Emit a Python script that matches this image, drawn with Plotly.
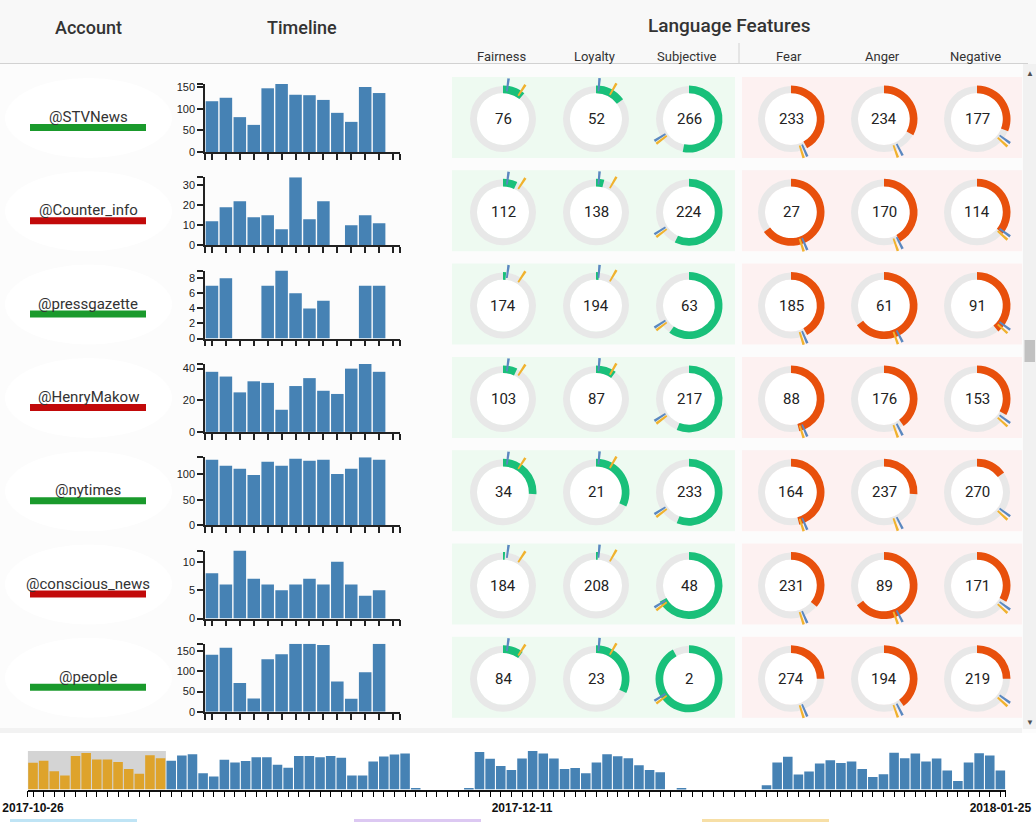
import plotly.graph_objects as go

W, H = 1036, 822

# ---- data ----
accounts = ["@STVNews", "@Counter_info", "@pressgazette", "@HenryMakow",
            "@nytimes", "@conscious_news", "@people"]
account_reliable = [True, False, True, False, True, False, True]

# tweets per day for the 13 selected days (14th band empty)
stv_news = [118, 126, 81, 63, 148, 158, 133, 132, 121, 91, 70, 151, 137]
counter_info = [12, 19, 22, 14, 15, 8, 34, 13, 22, 0, 10, 15, 11]
press_gazette = [7, 8, 0, 0, 7, 9, 6, 4, 5, 0, 0, 7, 7]
henry_makow = [38, 35, 25, 32, 31, 14, 29, 34, 26, 24, 40, 43, 38]
ny_times = [129, 117, 111, 99, 125, 117, 131, 127, 129, 101, 111, 134, 129]
conscious_news = [8, 6, 12, 7, 6, 5, 6, 7, 6, 10, 6, 4, 5]
people = [141, 158, 71, 33, 130, 142, 168, 168, 165, 75, 32, 98, 168]
timelines = [stv_news, counter_info, press_gazette, henry_makow, ny_times, conscious_news, people]
y_dtick = [50, 10, 2, 20, 50, 5, 50]

features = ["Fairness", "Loyalty", "Subjective", "Fear", "Anger", "Negative"]
# rank shown in the middle of each donut
fairness_rank = [76, 112, 174, 103, 34, 184, 84]
loyalty_rank = [52, 138, 194, 87, 21, 208, 23]
subjective_rank = [266, 224, 63, 217, 233, 48, 2]
fear_rank = [233, 27, 185, 88, 164, 231, 274]
anger_rank = [234, 170, 61, 176, 237, 89, 194]
negative_rank = [177, 114, 91, 153, 270, 171, 219]
ranks = [fairness_rank, loyalty_rank, subjective_rank, fear_rank, anger_rank, negative_rank]
# share of the ring that is filled
fairness_score = [0.11, 0.07, 0.015, 0.07, 0.26, 0.01, 0.10]
loyalty_score = [0.15, 0.04, 0.015, 0.10, 0.32, 0.01, 0.32]
subjective_score = [0.53, 0.57, 0.60, 0.56, 0.56, 0.67, 0.92]
fear_score = [0.42, 0.65, 0.42, 0.46, 0.46, 0.36, 0.25]
anger_score = [0.33, 0.42, 0.65, 0.40, 0.26, 0.65, 0.40]
negative_score = [0.31, 0.36, 0.39, 0.33, 0.15, 0.33, 0.25]
scores = [fairness_score, loyalty_score, subjective_score, fear_score, anger_score, negative_score]
# average markers around each ring
avg_reliable = [0.022, 0.014, 0.66, 0.435, 0.425, 0.35]
avg_unreliable = [0.092, 0.083, 0.647, 0.45, 0.445, 0.367]

# overview: tweets per day 2017-10-26 .. 2018-01-25
overview_counts = [82, 88, 56, 43, 103, 112, 92, 92, 84, 63, 48, 105, 96,
                   88, 104, 108, 50, 40, 91, 83, 87, 99, 99, 76, 67, 103, 103, 99, 103, 97,
                   43, 43, 86, 101, 107, 110, 4, 0, 0, 0, 0, 3, 115, 94, 72, 60,
                   95, 118, 110, 95, 63, 66, 50, 83, 108, 102, 96, 74, 60, 53,
                   0, 2, 0, 0, 0, 0, 0, 0, 0, 13,
                   83, 100, 46, 55, 80, 90, 81, 86, 63, 38, 47, 113, 96, 110, 86, 95,
                   58, 26, 83, 111, 104, 58]
overview_labels = {0: "2017-10-26", 46: "2017-12-11", 91: "2018-01-25"}
brush_days = 13

BLUE = "#4682b4"
GOLD = "#dea32b"
GREEN_ARC = "#19c07a"
RED_ARC = "#e8500c"
MARK_BLUE = "#5b88c0"
MARK_GOLD = "#f0b22e"
CLEAR = "rgba(0,0,0,0)"
FONT = "Roboto"


def fx(p):
    return p / W


def fy(p):
    return 1 - p / H


ROW_H = 93.3
ROW0 = 118
donut_x = [503, 596, 689, 791, 884, 977]

fig = go.Figure()
shapes = []
annotations = []
layout_axes = {}

# backgrounds
shapes.append(dict(type="rect", xref="paper", yref="paper", x0=0, x1=1, y0=fy(64), y1=1,
                   fillcolor="#f8f8f8", line_width=0, layer="below"))
shapes.append(dict(type="line", xref="paper", yref="paper", x0=0, x1=fx(1028), y0=fy(63.5), y1=fy(63.5),
                   line=dict(color="#d2d2d2", width=1), layer="below"))
shapes.append(dict(type="line", xref="paper", yref="paper", x0=fx(739), x1=fx(739), y0=fy(43), y1=fy(63),
                   line=dict(color="#d2d2d2", width=1), layer="below"))
shapes.append(dict(type="rect", xref="paper", yref="paper", x0=0, x1=1, y0=0, y1=fy(733),
                   fillcolor="#ffffff", line_width=0, layer="below"))
shapes.append(dict(type="rect", xref="paper", yref="paper", x0=0, x1=fx(1022), y0=fy(733), y1=fy(728),
                   fillcolor="#f2f2f2", line_width=0, layer="below"))

annotations += [
    dict(x=fx(88), y=fy(27), text="Account", font=dict(size=18, color="#333", family=FONT, weight=500)),
    dict(x=fx(302), y=fy(27), text="Timeline", font=dict(size=18, color="#333", family=FONT, weight=500)),
    dict(x=fx(729), y=fy(25), text="Language Features", font=dict(size=19, color="#333", family=FONT, weight=500)),
]
for j, name in enumerate(features):
    annotations.append(dict(x=fx(donut_x[j] - 2), y=fy(56), text=name,
                            font=dict(size=13, color="#333", family=FONT)))

for r in range(7):
    yc = ROW0 + ROW_H * r
    # account cell
    shapes.append(dict(type="circle", xref="paper", yref="paper", x0=fx(5), x1=fx(172),
                       y0=fy(yc + 40), y1=fy(yc - 40), fillcolor="#ffffff", line_width=0, layer="below"))
    bar_col = "#1a9a2c" if account_reliable[r] else "#c20a0a"
    shapes.append(dict(type="rect", xref="paper", yref="paper", x0=fx(30), x1=fx(146),
                       y0=fy(yc + 13), y1=fy(yc + 6), fillcolor=bar_col, line_width=0, layer="below"))
    annotations.append(dict(x=fx(88), y=fy(yc - 1), text=accounts[r],
                            font=dict(size=15, color="#333", family=FONT)))

    # feature panels
    shapes.append(dict(type="rect", xref="paper", yref="paper", x0=fx(452), x1=fx(735),
                       y0=fy(yc + 40), y1=fy(yc - 41), fillcolor="#eefaf1", line_width=0, layer="below"))
    shapes.append(dict(type="rect", xref="paper", yref="paper", x0=fx(742), x1=fx(1022),
                       y0=fy(yc + 40), y1=fy(yc - 41), fillcolor="#fdf1f1", line_width=0, layer="below"))

    # timeline bars
    n = r + 1
    xa = "x" if n == 1 else f"x{n}"
    ya = "y" if n == 1 else f"y{n}"
    vals = timelines[r]
    fig.add_trace(go.Bar(x=list(range(len(vals))), y=vals, marker=dict(color=BLUE, line_width=0),
                         xaxis=xa, yaxis=ya, hoverinfo="skip", showlegend=False))
    ymax = max(vals)
    tv = list(range(0, ymax + 1, y_dtick[r]))
    tt = [str(v) for v in tv]
    if ymax not in tv:
        tv.append(ymax)
        tt.append("")
    layout_axes["xaxis" if n == 1 else f"xaxis{n}"] = dict(
        domain=[fx(205), fx(400)], anchor=ya, range=[-0.5, 13.5],
        tickvals=[-0.5] + list(range(14)) + [13.5], ticktext=[""] * 16,
        ticks="outside", ticklen=6, tickwidth=1.5, tickcolor="#222", automargin=False,
        showline=True, linecolor="#222", linewidth=1.5, showgrid=False, zeroline=False, fixedrange=True)
    layout_axes["yaxis" if n == 1 else f"yaxis{n}"] = dict(
        domain=[fy(yc + 34), fy(yc - 34)], anchor=xa, range=[0, ymax],
        tickvals=tv, ticktext=tt, ticks="outside", ticklen=6, tickwidth=1.5, tickcolor="#222",
        tickfont=dict(size=11, color="#222", family="Liberation Sans"), automargin=False,
        showline=True, linecolor="#222", linewidth=1.5, showgrid=False, zeroline=False, fixedrange=True)

    # donuts
    cy = yc + 1
    for j in range(6):
        cx = donut_x[j]
        shapes.append(dict(type="circle", xref="paper", yref="paper", x0=fx(cx - 26), x1=fx(cx + 26),
                           y0=fy(cy + 26), y1=fy(cy - 26), fillcolor="#ffffff", line_width=0, layer="below"))

        def dom(rad):
            return dict(x=[fx(cx - rad), fx(cx + rad)], y=[fy(cy + rad), fy(cy - rad)])

        common = dict(sort=False, direction="clockwise", rotation=0, textinfo="none",
                      hoverinfo="skip", showlegend=False)
        fig.add_trace(go.Pie(values=[1], marker=dict(colors=["#e8e8e8"]), hole=0.79,
                             domain=dom(33), **common))
        s = scores[j][r]
        arc_col = GREEN_ARC if j < 3 else RED_ARC
        fig.add_trace(go.Pie(values=[s, 1 - s], marker=dict(colors=[arc_col, CLEAR]), hole=0.77,
                             domain=dom(33.5), **common))
        # average markers
        marks = sorted([(avg_reliable[j], MARK_BLUE), (avg_unreliable[j], MARK_GOLD)])
        w = 0.01
        mv, mc, pos = [], [], 0.0
        for ang, c in marks:
            start = max(ang - w / 2, pos)
            mv.append(start - pos)
            mc.append(CLEAR)
            mv.append(w)
            mc.append(c)
            pos = start + w
        mv.append(1 - pos)
        mc.append(CLEAR)
        fig.add_trace(go.Pie(values=mv, marker=dict(colors=mc), hole=0.68,
                             domain=dom(41), **common))
        annotations.append(dict(x=fx(cx), y=fy(cy), text=str(ranks[j][r]),
                                font=dict(size=15, color="#222", family=FONT)))

# overview timeline with brush
ov_colors = [GOLD if i < brush_days else BLUE for i in range(len(overview_counts))]
fig.add_trace(go.Bar(x=list(range(len(overview_counts))), y=overview_counts,
                     marker=dict(color=ov_colors, line_width=0), xaxis="x8", yaxis="y8",
                     hoverinfo="skip", showlegend=False))
nd = len(overview_counts)
ov_tv = [-0.5] + list(range(nd)) + [nd - 0.5]
ov_tt = [""] + [overview_labels.get(i, "") for i in range(nd)] + [""]
layout_axes["xaxis8"] = dict(domain=[fx(27.7), fx(1005.7)], anchor="y8", range=[-0.5, nd - 0.5],
                             tickvals=ov_tv, ticktext=ov_tt, ticks="outside", ticklen=6, tickwidth=1.3,
                             tickcolor="#000", tickangle=0, automargin=False,
                             tickfont=dict(size=12, color="#111", family="Liberation Sans", weight="bold"),
                             showline=True, linecolor="#111", linewidth=1.5, showgrid=False,
                             zeroline=False, fixedrange=True)
layout_axes["yaxis8"] = dict(domain=[fy(789.5), fy(751)], anchor="x8", range=[0, max(overview_counts)],
                             visible=False, fixedrange=True, automargin=False)
shapes.append(dict(type="rect", xref="x8", yref="y8", x0=-0.5, x1=brush_days - 0.5,
                   y0=0, y1=max(overview_counts), fillcolor="#d4d4d4", line_width=0, layer="below"))

# scrollbar
shapes.append(dict(type="rect", xref="paper", yref="paper", x0=fx(1023), x1=1, y0=fy(729), y1=fy(64),
                   fillcolor="#f1f1f1", line_width=0, layer="above"))
shapes.append(dict(type="rect", xref="paper", yref="paper", x0=fx(1024.5), x1=fx(1035), y0=fy(362),
                   y1=fy(340), fillcolor="#c1c1c1", line_width=0, layer="above"))
annotations.append(dict(x=fx(1029.5), y=fy(72), text="▲", font=dict(size=8, color="#505050")))
annotations.append(dict(x=fx(1029.5), y=fy(721), text="▼", font=dict(size=8, color="#505050")))

# tops of the buttons below the overview
for x0, x1, c in [(10, 137, "#bfe4f5"), (354, 481, "#dcc8f2"), (702, 829, "#f7dfa6")]:
    shapes.append(dict(type="rect", xref="paper", yref="paper", x0=fx(x0), x1=fx(x1), y0=0, y1=fy(819),
                       fillcolor=c, line_width=0, layer="above"))

for a in annotations:
    a.update(xref="paper", yref="paper", showarrow=False, xanchor="center", yanchor="middle")

fig.update_layout(width=W, height=H, margin=dict(l=0, r=0, t=0, b=0, autoexpand=False),
                  paper_bgcolor="#fcfcfc", plot_bgcolor="rgba(0,0,0,0)",
                  bargap=0.1, showlegend=False, shapes=shapes, annotations=annotations,
                  **layout_axes)

# page body margin would shift the 1036x822 figure, so drop it
fig.write_html("out.html", config={"displayModeBar": False},
               post_script="document.body.style.margin='0px';")
